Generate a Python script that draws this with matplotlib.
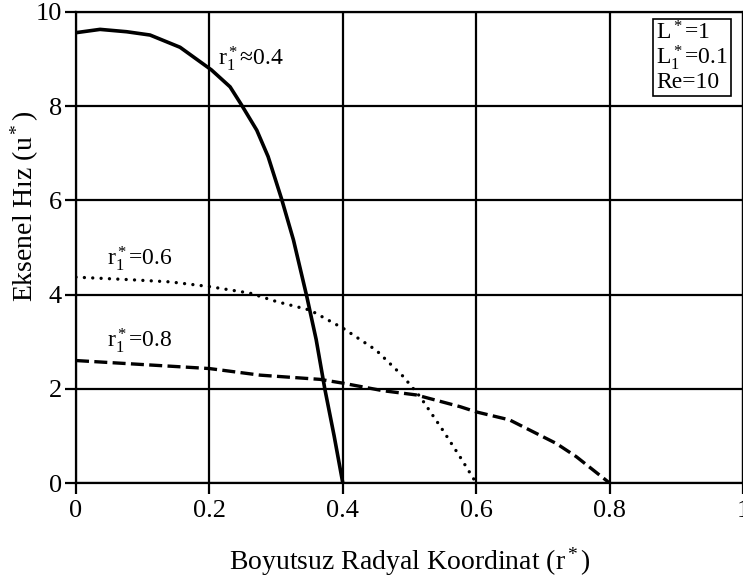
import matplotlib
matplotlib.use("Agg")
import matplotlib.pyplot as plt

plt.rcParams["font.family"] = ["Liberation Serif", "DejaVu Serif"]
plt.rcParams["mathtext.fontset"] = "custom"
plt.rcParams["mathtext.rm"] = "Liberation Serif"
plt.rcParams["mathtext.it"] = "Liberation Serif:italic"

# r1* = 0.4 (solid)
x_04 = [0.0, 0.036, 0.076, 0.111, 0.156, 0.203, 0.231, 0.248, 0.271, 0.288, 0.308, 0.326, 0.346, 0.36, 0.373, 0.387, 0.4]
u_04 = [9.56, 9.63, 9.58, 9.51, 9.25, 8.77, 8.41, 8.03, 7.49, 6.93, 6.04, 5.16, 3.96, 3.05, 2.0, 1.0, 0.0]

# r1* = 0.6 (dotted)
x_06 = [0.0, 0.076, 0.141, 0.2, 0.261, 0.301, 0.351, 0.401, 0.45, 0.49, 0.516, 0.55, 0.576, 0.6]
u_06 = [4.37, 4.32, 4.27, 4.17, 4.03, 3.85, 3.67, 3.28, 2.82, 2.27, 1.83, 1.12, 0.55, 0.0]

# r1* = 0.8 (dashed)
x_08 = [0.0, 0.2, 0.276, 0.366, 0.4, 0.46, 0.51, 0.576, 0.6, 0.65, 0.72, 0.75, 0.8]
u_08 = [2.6, 2.43, 2.29, 2.2, 2.12, 1.96, 1.87, 1.62, 1.51, 1.34, 0.84, 0.56, 0.0]

xticks = [0, 0.2, 0.4, 0.6, 0.8, 1]
xtick_labels = ["0", "0.2", "0.4", "0.6", "0.8", "1"]
yticks = [0, 2, 4, 6, 8, 10]

fig = plt.figure(figsize=(7.43, 5.83), dpi=100)
ax = fig.add_axes([0.1023, 0.1715, 0.8977, 0.808])

ax.plot(x_04, u_04, color="black", lw=2.6, solid_joinstyle="round")
ax.plot(x_06, u_06, color="black", lw=2.4, linestyle=(0, (0.01, 2.5)), dash_capstyle="round")
ax.plot(x_08, u_08, color="black", lw=2.4, linestyle=(0, (3.9, 1.6)))

ax.set_xlim(0, 1)
ax.set_ylim(0, 10)
ax.set_xticks(xticks)
ax.set_xticklabels(xtick_labels)
ax.set_yticks(yticks)
ax.grid(True, color="black", lw=1.6)
for s in ax.spines.values():
    s.set_linewidth(1.6)
ax.tick_params(direction="out", length=8, width=1.6, labelsize=19)
ax.tick_params(axis="x", pad=4)
ax.tick_params(axis="y", pad=2)

ax.text(0.213, 8.87, r"r$_1^*$≈0.4", fontsize=17)
ax.text(0.046, 4.63, r"r$_1^*$=0.6", fontsize=17)
ax.text(0.046, 2.89, r"r$_1^*$=0.8", fontsize=17)

ax.text(0.87, 9.8, "L$^*$=1\nL$_1^*$=0.1\nRe=10", fontsize=17, linespacing=0.95,
        va="top", ha="left",
        bbox=dict(boxstyle="square,pad=0.12", fc="white", ec="black", lw=1.2))

ax.set_xlabel("Boyutsuz Radyal Koordinat (r$^*$)", fontsize=20, va="center")
ax.xaxis.set_label_coords(0.5, -0.168)
ax.set_ylabel("Eksenel Hız (u$^*$)", fontsize=20, va="center")
ax.yaxis.set_label_coords(-0.0765, 0.588)

fig.savefig("out.png", dpi=100)
